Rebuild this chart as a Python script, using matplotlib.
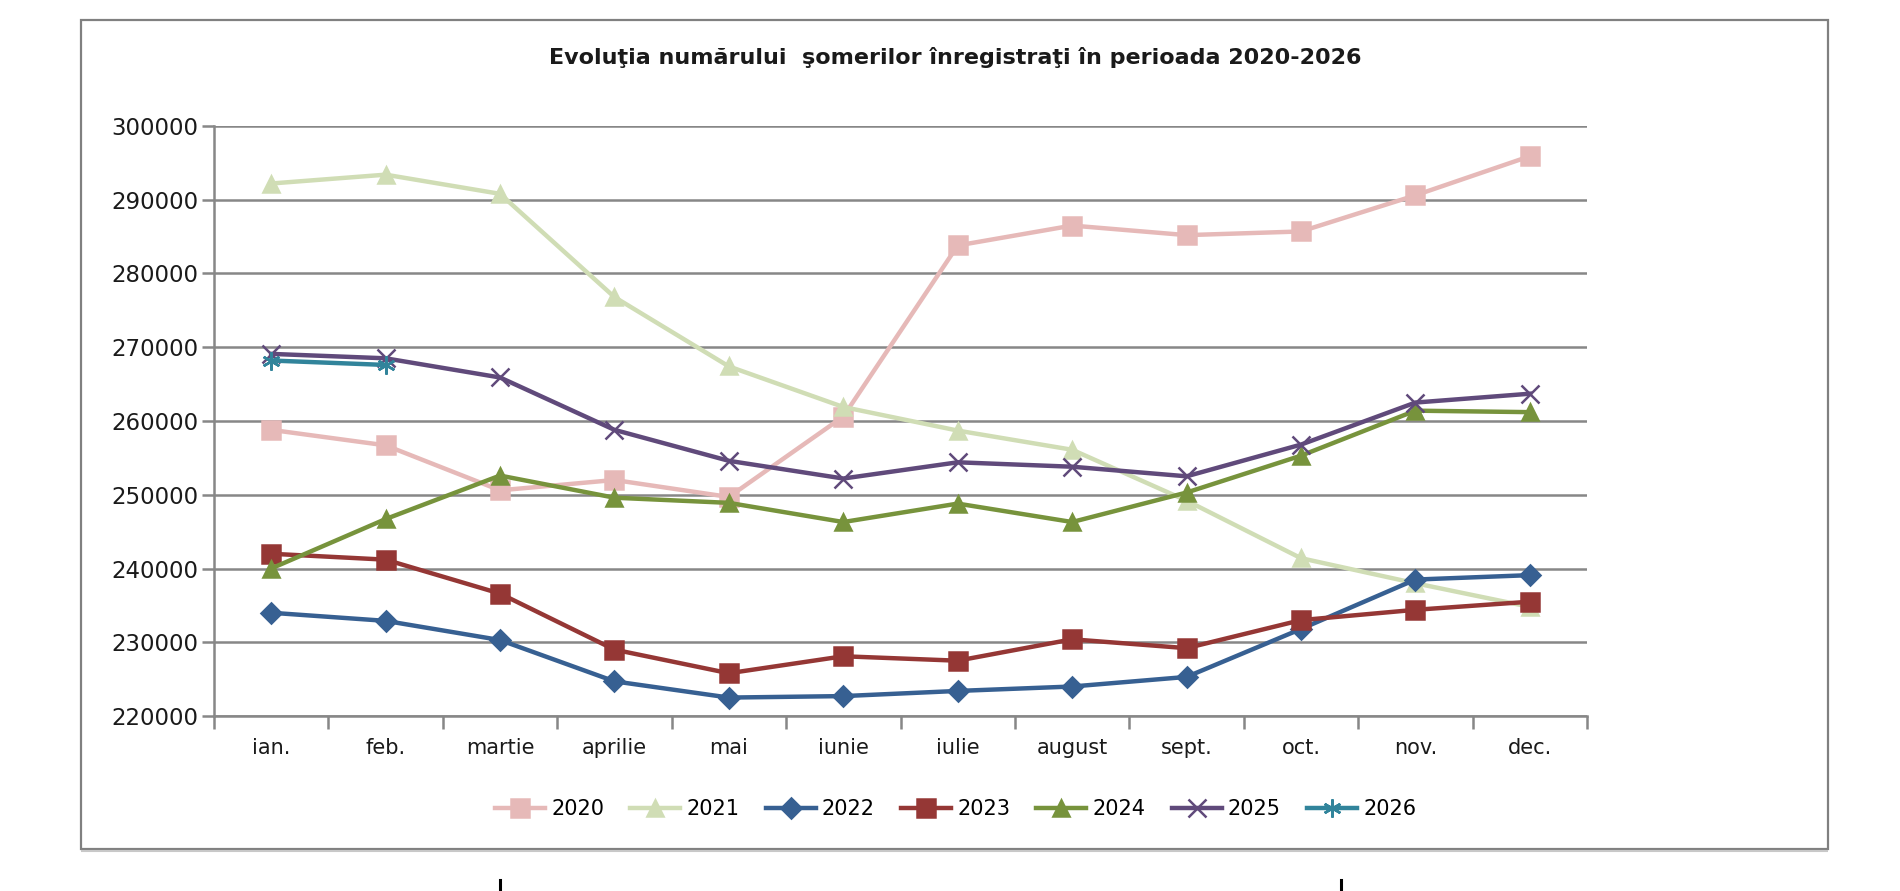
import matplotlib
matplotlib.use("Agg")
import matplotlib.pyplot as plt
from matplotlib.patches import Rectangle
from matplotlib.lines import Line2D

# luni si numarul de someri pe ani
months = ['ian.', 'feb.', 'martie', 'aprilie', 'mai', 'iunie', 'iulie',
          'august', 'sept.', 'oct.', 'nov.', 'dec.']
years = ['2020', '2021', '2022', '2023', '2024', '2025', '2026']

y2020 = [258800, 256700, 250600, 252000, 249700, 260600, 283800, 286500, 285200, 285700, 290600, 295900]
y2021 = [292200, 293400, 290800, 276800, 267400, 261900, 258700, 256100, 249200, 241400, 238000, 234800]
y2022 = [234000, 232900, 230300, 224700, 222500, 222700, 223400, 224000, 225300, 231800, 238500, 239100]
y2023 = [242000, 241200, 236600, 229000, 225800, 228100, 227500, 230400, 229200, 233000, 234400, 235500]
y2024 = [240000, 246700, 252600, 249600, 248900, 246300, 248800, 246300, 250300, 255300, 261400, 261200]
y2025 = [269100, 268500, 265900, 258800, 254600, 252200, 254400, 253800, 252500, 256800, 262500, 263700]
y2026 = [268200, 267600]

yticks = [220000, 230000, 240000, 250000, 260000, 270000, 280000, 290000, 300000]

series = [y2020, y2021, y2022, y2023, y2024, y2025, y2026]
colors = ['#E6B9B8', '#D0DDB5', '#376092', '#953735', '#77933C', '#604A7B', '#31849B']
markers = ['s', '^', 'D', 's', '^', 'x', (6, 2, 0)]
msizes = [13, 12, 10, 13, 12, 13, 13]

plt.rcParams['font.family'] = ['DejaVu Sans']

fig = plt.figure(figsize=(19, 8.91), dpi=100)
ax = fig.add_axes([0.1126, 0.1964, 0.7227, 0.6622])

for i in range(len(series)):
    vals = series[i]
    ax.plot(range(len(vals)), vals, color=colors[i], marker=markers[i],
            markersize=msizes[i], markeredgewidth=1.8, linewidth=3.2,
            label=years[i], zorder=3 + i)

ax.set_xlim(-0.5, 11.5)
ax.set_ylim(220000, 300000)
ax.set_yticks(yticks)
ax.set_yticklabels([str(v) for v in yticks])

# ticks intre categorii, etichete la centru
ax.set_xticks([k - 0.5 for k in range(13)])
ax.set_xticklabels([])
ax.set_xticks(range(12), minor=True)
ax.set_xticklabels(months, minor=True)
ax.tick_params(axis='x', which='major', length=9, width=1.8, color='#878787', direction='out')
ax.tick_params(axis='x', which='minor', length=0, pad=16, labelsize=15, labelcolor='#1a1a1a')
ax.tick_params(axis='y', length=9, width=1.8, color='#878787', pad=2, labelsize=16.5, labelcolor='#1a1a1a')

ax.grid(axis='y', color='#878787', linewidth=1.8, zorder=1)
ax.set_axisbelow(True)
for s in ['top', 'right']:
    ax.spines[s].set_visible(False)
for s in ['left', 'bottom']:
    ax.spines[s].set_color('#878787')
    ax.spines[s].set_linewidth(1.8)

fig.text(0.5026, 0.936, 'Evoluţia numărului  şomerilor înregistraţi în perioada 2020-2026',
         ha='center', va='center', fontsize=16, fontweight='bold', color='#1a1a1a')

fig.legend(loc='center', bbox_to_anchor=(0.503, 0.092), ncol=7, frameon=False,
           fontsize=15, handlelength=2.4, columnspacing=1.25, handletextpad=0.3)

# chenarul graficului
fig.patches.append(Rectangle((0.0426, 0.0471), 0.9195, 0.9305, transform=fig.transFigure,
                             fill=False, edgecolor='#808080', linewidth=1.6))
fig.patches.append(Rectangle((0.0426, 0.0448), 0.9195, 0.0, transform=fig.transFigure,
                             fill=False, edgecolor='#c8c8c8', linewidth=1.5))

# urme din textul de sub grafic (taiat la margine)
for xm in [0.263, 0.706]:
    fig.add_artist(Line2D([xm, xm], [0.0, 0.012], transform=fig.transFigure,
                          color='black', linewidth=2.2))

fig.savefig('out.png', dpi=100)
